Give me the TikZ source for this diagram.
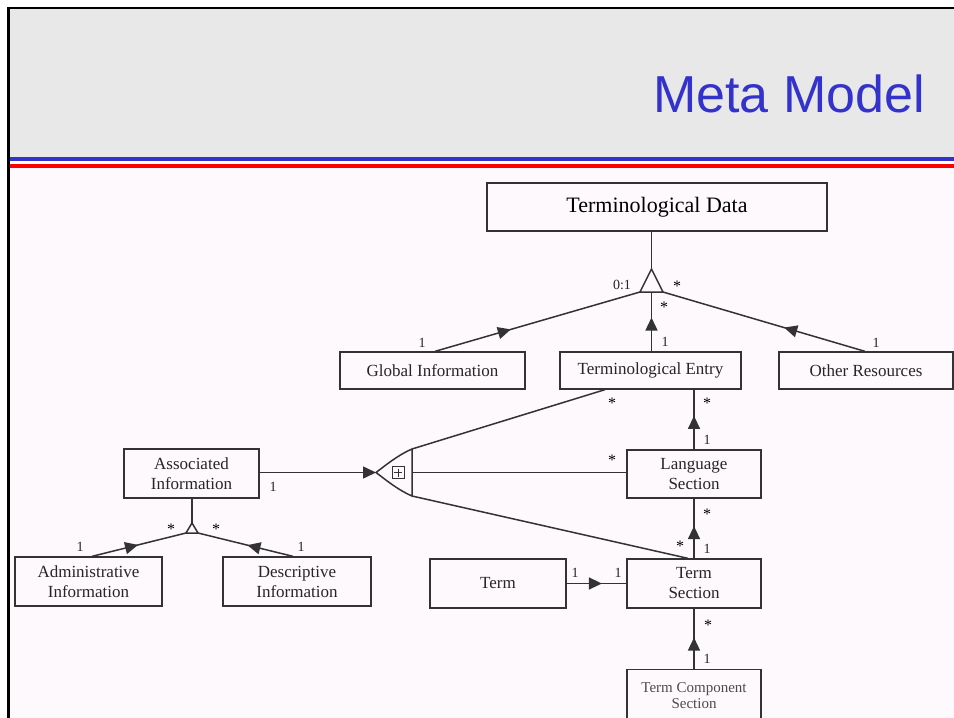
\documentclass[tikz,border=0pt]{standalone}
\usepackage{fontspec}
\setmainfont{Liberation Serif}
\newfontfamily\titlefont{Liberation Sans}
\usetikzlibrary{arrows.meta,decorations.markings,calc}
\definecolor{headbg}{HTML}{E8E8E8}
\definecolor{bodybg}{HTML}{FDF9FD}
\definecolor{titleblue}{HTML}{3333CC}
\definecolor{rulered}{HTML}{FF0000}
\definecolor{ink}{HTML}{333333}
\begin{document}
\begin{tikzpicture}[x=1pt,y=-1pt,
  cls/.style={draw=ink, line width=1.3pt, inner sep=0pt, align=center, text=black!85,
              font=\fontsize{17}{20}\selectfont},
  link/.style={draw=ink, line width=1.5pt},
  mult/.style={inner sep=0pt, font=\fontsize{14}{14}\selectfont, text=black!85},
  star/.style={inner sep=0pt, font=\fontsize{16}{16}\selectfont, text=black},
  tipmid/.style={postaction={decorate,decoration={markings,
      mark=at position #1 with {\arrow{Triangle[length=13pt,width=12pt]}}}}},
]
% slide frame and header
\clip (0,0) rectangle (954,718);
\fill[white] (0,0) rectangle (954,718);
\fill[bodybg] (8,8) rectangle (954,718);
\fill[headbg] (8,8) rectangle (954,157);
\fill[titleblue] (8,157) rectangle (954,161);
\fill[white] (8,161) rectangle (954,164);
\fill[rulered] (8,164) rectangle (954,168);
\draw[line width=2.5pt] (8.5,718) -- (8.5,8) -- (954,8);
\node[anchor=base east, inner sep=0pt, text=titleblue,
      font=\titlefont\fontsize{52}{52}\selectfont] (title) at (925,112) {Meta Model};

% classes
\node[cls, minimum width=340, minimum height=48, text=black, font=\fontsize{22}{24}\selectfont] (td) at (657,207) {Terminological Data};
\node[cls, minimum width=185, minimum height=37] (gi) at (432.5,370.5) {Global Information};
\node[cls, minimum width=181, minimum height=37] (te) at (650.5,370.5) {Terminological Entry};
\node[cls, minimum width=174, minimum height=37] (or) at (866,370.5) {Other Resources};
\node[cls, minimum width=135, minimum height=49] (ai) at (191.5,473.5) {Associated\\Information};
\node[cls, minimum width=134, minimum height=48] (ls) at (694,474) {Language\\Section};
\node[cls, minimum width=147, minimum height=49] (adm) at (88.5,581.5) {Administrative\\Information};
\node[cls, minimum width=148, minimum height=49] (desc) at (297,581.5) {Descriptive\\Information};
\node[cls, minimum width=136, minimum height=49] (term) at (498,583.5) {Term};
\node[cls, minimum width=134, minimum height=49] (ts) at (694,583.5) {Term\\Section};
\node[cls, minimum width=134, minimum height=52, text=black!70, font=\fontsize{15}{16}\selectfont] (tcs) at (694,695.5) {Term Component\\Section};

% aggregation under Terminological Data
\coordinate (tA) at (651.5,269);
\coordinate (tL) at (640,292);
\coordinate (tR) at (663,292);
\coordinate (tB) at (651.5,292);
\draw[link] (tA |- td.south) -- (tA);
\draw[link, fill=bodybg] (tA) -- (tL) -- (tR) -- cycle;
\draw[link, tipmid=0.37] ([xshift=2.5pt]gi.north) -- (tL);
\draw[link, tipmid=0.57] (te.north -| tB) -- (tB);
\draw[link, tipmid=0.40] ([xshift=-1pt]or.north) -- (tR);

% composition linking Associated Information to the sections
\coordinate (cP) at (376,472.5);
\coordinate (cT) at (412,449);
\coordinate (cB) at (412,496);
\coordinate (cM) at (412,472.5);
\draw[link] (cT) .. controls (398,455) and (386,465) .. (cP)
            .. controls (386,480) and (398,490) .. (cB) -- cycle;
\node[draw=ink, line width=1pt, minimum size=12pt, inner sep=0pt] (plus) at (398,472.5) {};
\draw[ink, line width=1pt, shorten <=2.5pt, shorten >=2.5pt] (plus.north) -- (plus.south);
\draw[ink, line width=1pt, shorten <=2.5pt, shorten >=2.5pt] (plus.west) -- (plus.east);
\draw[link, -{Triangle[length=13pt,width=12pt]}] (ai.east |- cP) -- (cP);
\draw[link] (cT) -- ([xshift=-45.5pt]te.south);
\draw[link] (cM) -- (ls.west |- cM);
\draw[link] (cB) -- ([xshift=-6pt]ts.north);

% section hierarchy
\draw[link, tipmid=0.56] (ls.north) -- (ls.north |- te.south);
\draw[link, tipmid=0.54] (ts.north) -- (ls.south);
\draw[link, tipmid=0.52] (tcs.north) -- (ts.south);
\draw[link, tipmid=0.59] (term.east) -- (ts.west);

% aggregation under Associated Information
\coordinate (sA) at (192,523);
\coordinate (sL) at (186,533);
\coordinate (sR) at (198,533);
\draw[link] (ai.south -| sA) -- (sA);
\draw[link, fill=bodybg] (sA) -- (sL) -- (sR) -- cycle;
\draw[link, tipmid=0.49] ([xshift=3.5pt]adm.north) -- (sL);
\draw[link, tipmid=0.48] ([xshift=-4pt]desc.north) -- (sR);

% multiplicities
\node[mult] (m01) at (622,285) {0:1};
\node[star] (m02) at (677,286) {*};
\node[star] (m03) at (664,307) {*};
\node[mult] (m04) at (422,343) {1};
\node[mult] (m05) at (665,342) {1};
\node[mult] (m06) at (876,343) {1};
\node[star] (m07) at (612,403) {*};
\node[star] (m08) at (707,403) {*};
\node[mult] (m09) at (707,440) {1};
\node[star] (m10) at (612,460) {*};
\node[mult] (m11) at (273,487) {1};
\node[star] (m12) at (707,514) {*};
\node[star] (m13) at (680,546) {*};
\node[mult] (m14) at (707,549) {1};
\node[star] (m15) at (171,529) {*};
\node[star] (m16) at (216,529) {*};
\node[mult] (m17) at (80,547) {1};
\node[mult] (m18) at (301,547) {1};
\node[mult] (m19) at (575,573) {1};
\node[mult] (m20) at (618,573) {1};
\node[star] (m21) at (708,625) {*};
\node[mult] (m22) at (707,659) {1};
\end{tikzpicture}
\end{document}
